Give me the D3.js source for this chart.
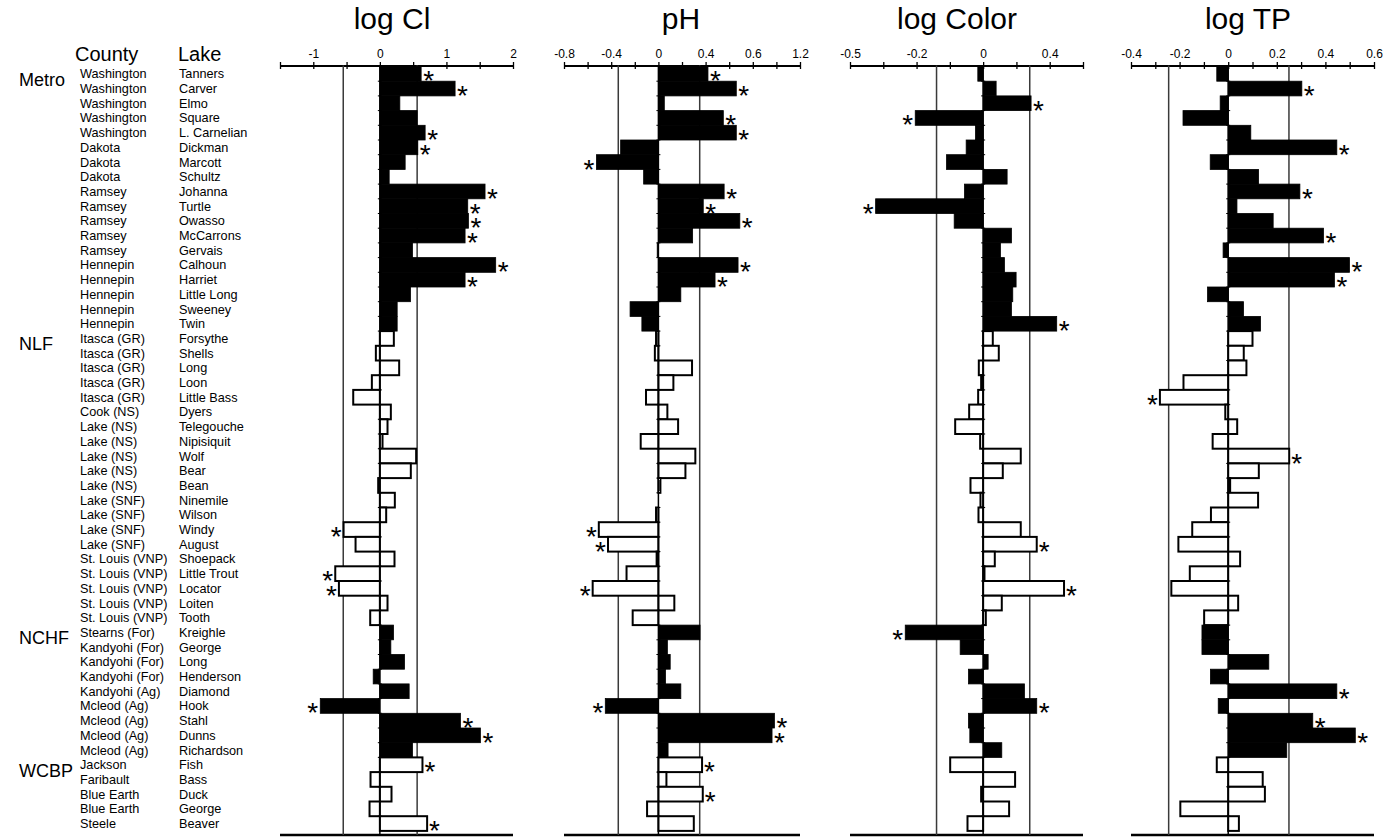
<!DOCTYPE html>
<meta charset="utf-8">
<script src="https://d3js.org/d3.v7.min.js"></script>
<style>
  body { margin: 0; background: #fff; overflow: hidden; }
  svg text { font-family: "Liberation Sans", Arial, Helvetica, sans-serif; fill: #000; }
</style>
<body>
<script>
// rows, top to bottom
var county = ["Washington","Washington","Washington","Washington","Washington","Dakota","Dakota","Dakota",
  "Ramsey","Ramsey","Ramsey","Ramsey","Ramsey","Hennepin","Hennepin","Hennepin","Hennepin","Hennepin",
  "Itasca (GR)","Itasca (GR)","Itasca (GR)","Itasca (GR)","Itasca (GR)","Cook (NS)","Lake (NS)","Lake (NS)",
  "Lake (NS)","Lake (NS)","Lake (NS)","Lake (SNF)","Lake (SNF)","Lake (SNF)","Lake (SNF)",
  "St. Louis (VNP)","St. Louis (VNP)","St. Louis (VNP)","St. Louis (VNP)","St. Louis (VNP)",
  "Stearns (For)","Kandyohi (For)","Kandyohi (For)","Kandyohi (For)","Kandyohi (Ag)",
  "Mcleod (Ag)","Mcleod (Ag)","Mcleod (Ag)","Mcleod (Ag)",
  "Jackson","Faribault","Blue Earth","Blue Earth","Steele"];
var lake = ["Tanners","Carver","Elmo","Square","L. Carnelian","Dickman","Marcott","Schultz","Johanna","Turtle",
  "Owasso","McCarrons","Gervais","Calhoun","Harriet","Little Long","Sweeney","Twin",
  "Forsythe","Shells","Long","Loon","Little Bass","Dyers","Telegouche","Nipisiquit","Wolf","Bear","Bean",
  "Ninemile","Wilson","Windy","August","Shoepack","Little Trout","Locator","Loiten","Tooth",
  "Kreighle","George","Long","Henderson","Diamond","Hook","Stahl","Dunns","Richardson",
  "Fish","Bass","Duck","George","Beaver"];
var groups = ["Metro","NLF","NCHF","WCBP"];
var groupStart = [0, 18, 38, 47];
var groupFilled = [true, false, true, false];

var logCl = [0.62,1.13,0.30,0.56,0.68,0.57,0.38,0.14,1.58,1.32,1.33,1.28,0.49,1.74,1.28,0.46,0.26,0.26,
  0.21,-0.06,0.29,-0.12,-0.40,0.165,0.115,0.04,0.545,0.465,-0.025,0.225,0.095,-0.545,-0.365,0.22,-0.67,-0.615,0.115,-0.145,
  0.205,0.165,0.37,-0.10,0.44,-0.895,1.21,1.51,0.49,
  0.64,-0.14,0.175,-0.155,0.71];
var pH = [0.42,0.66,0.05,0.55,0.66,-0.32,-0.525,-0.125,0.557,0.38,0.69,0.29,-0.01,0.675,0.48,0.19,-0.24,-0.14,
  -0.02,-0.03,0.285,0.127,-0.105,0.076,0.167,-0.15,0.313,0.229,0.017,0.0,-0.02,-0.505,-0.427,-0.015,-0.27,-0.557,0.135,-0.218,
  0.353,0.076,0.10,0.06,0.19,-0.45,0.983,0.963,0.082,
  0.37,0.068,0.376,-0.096,0.30];
var logColor = [-0.016,0.039,0.144,-0.204,-0.023,-0.051,-0.11,0.072,-0.056,-0.323,-0.087,0.085,0.052,0.064,0.099,0.089,0.085,0.221,
  0.029,0.047,-0.013,-0.006,-0.015,-0.042,-0.084,-0.009,0.113,0.059,-0.038,-0.008,-0.014,0.113,0.161,0.035,0.004,0.243,0.056,0.008,
  -0.234,-0.069,0.015,-0.044,0.124,0.161,-0.044,-0.04,0.056,
  -0.099,0.096,-0.006,0.078,-0.047];
var logTP = [-0.047,0.303,-0.033,-0.186,0.093,0.447,-0.074,0.125,0.295,0.036,0.185,0.392,-0.021,0.499,0.437,-0.085,0.063,0.133,
  0.10,0.064,0.075,-0.184,-0.281,-0.012,0.037,-0.064,0.251,0.126,0.008,0.123,-0.071,-0.148,-0.205,0.049,-0.158,-0.234,0.041,-0.099,
  -0.108,-0.108,0.167,-0.073,0.447,-0.041,0.348,0.523,0.241,
  -0.047,0.142,0.151,-0.197,0.044];

// rows marked with a star
var clStars = [0,1,4,5,8,9,10,11,13,14,31,34,35,43,44,45,47,51];
var pHStars = [0,1,3,4,6,8,9,10,13,14,31,32,35,43,44,45,47,49];
var colorStars = [2,3,9,17,32,35,38,43];
var tpStars = [1,5,8,11,13,14,22,26,42,44,45];

// reference lines
var clRefs = [-0.55, 0.56];
var pHRefs = [-0.34, 0.35];
var colorRefs = [-0.14, 0.14];
var tpRefs = [-0.245, 0.25];

// axis ticks and their printed labels
var clTicks = [-1.5,-1,-0.5,0,0.5,1,1.5,2];
var clTickLabels = ["","-1","","0","","1","","2"];
var pHTicks = [-0.8,-0.6,-0.4,-0.2,0,0.2,0.4,0.6,0.8,1,1.2];
var pHTickLabels = ["-0.8","","-0.4","","0","","0.4","","0.6","","1.2"];
var colorTicks = [-0.4,-0.3,-0.2,-0.1,0,0.1,0.2,0.3];
var colorTickLabels = ["-0.5","","-0.2","","0","","0.4",""];
var tpTicks = [-0.4,-0.3,-0.2,-0.1,0,0.1,0.2,0.3,0.4,0.5,0.6];
var tpTickLabels = ["-0.4","","-0.2","","0","","0.2","","0.4","","0.6"];

var width = 1392, height = 837;
var svg = d3.select('body').append('svg')
    .attr('width', width)
    .attr('height', height);

var rowTop = 66.5, rowH = 14.7, axisY = 65.5, bottomY = 835;
var y = d3.scaleBand()
    .domain(d3.range(lake.length))
    .range([rowTop, rowTop + rowH * lake.length]);

function groupOf(i) {
    var g = 0;
    groupStart.forEach(function (s, k) { if (i >= s) g = k; });
    return g;
}

// left labels
svg.append('text').attr('x', 75).attr('y', 61).style('font-size', '20px').text('County');
svg.append('text').attr('x', 178).attr('y', 61).style('font-size', '20px').text('Lake');

svg.append('g').selectAll('text')
    .data(groups)
    .enter().append('text')
    .attr('x', 19)
    .attr('y', (d, i) => y(groupStart[i]) + rowH / 2 + 12)
    .style('font-size', '18px')
    .text(d => d);

var rows = svg.append('g').selectAll('g')
    .data(lake)
    .enter().append('g')
    .attr('transform', (d, i) => 'translate(0,' + (y(i) + rowH / 2 + 4.5) + ')');
rows.append('text').attr('x', 80).style('font-size', '12.7px').text((d, i) => county[i]);
rows.append('text').attr('x', 179).style('font-size', '12.7px').text(d => d);

var panels = [
    {title: 'log Cl', values: logCl, stars: clStars, refs: clRefs, ticks: clTicks, labels: clTickLabels,
     domain: [-1.5, 2], range: [280, 513], titleX: 392},
    {title: 'pH', values: pH, stars: pHStars, refs: pHRefs, ticks: pHTicks, labels: pHTickLabels,
     domain: [-0.8, 1.2], range: [564, 800], titleX: 681},
    {title: 'log Color', values: logColor, stars: colorStars, refs: colorRefs, ticks: colorTicks, labels: colorTickLabels,
     domain: [-0.4, 0.3], range: [850, 1083], titleX: 957},
    {title: 'log TP', values: logTP, stars: tpStars, refs: tpRefs, ticks: tpTicks, labels: tpTickLabels,
     domain: [-0.4, 0.6], range: [1131, 1374], titleX: 1248}
];

panels.forEach(function (p) {
    var x = d3.scaleLinear().domain(p.domain).range(p.range);
    var g = svg.append('g');

    g.append('text')
        .attr('x', p.titleX)
        .attr('y', 29)
        .attr('text-anchor', 'middle')
        .style('font-size', '30px')
        .text(p.title);

    // top axis
    var ax = g.append('g')
        .attr('transform', 'translate(0,' + axisY + ')')
        .call(d3.axisTop(x)
            .tickValues(p.ticks)
            .tickFormat((d, i) => p.labels[i])
            .tickSizeInner(3)
            .tickSizeOuter(0)
            .tickPadding(5));
    ax.select('.domain').attr('stroke-width', 2);
    ax.selectAll('.tick line').attr('y1', 3.5).attr('y2', -3.5).attr('stroke-width', 1.3);
    ax.selectAll('.tick text')
        .style('font-family', '"Liberation Sans", Arial, Helvetica, sans-serif')
        .style('font-size', '12px');

    // bottom line
    g.append('line')
        .attr('x1', p.range[0]).attr('x2', p.range[1])
        .attr('y1', bottomY).attr('y2', bottomY)
        .attr('stroke', '#000').attr('stroke-width', 2.5);

    // reference lines
    g.selectAll('.ref')
        .data(p.refs)
        .enter().append('line')
        .attr('class', 'ref')
        .attr('x1', d => x(d)).attr('x2', d => x(d))
        .attr('y1', axisY).attr('y2', bottomY)
        .attr('stroke', '#3a3a3a').attr('stroke-width', 1.5);

    // bars
    g.selectAll('.bar')
        .data(p.values)
        .enter().append('rect')
        .attr('class', 'bar')
        .attr('x', d => Math.min(x(0), x(d)))
        .attr('y', (d, i) => y(i))
        .attr('width', d => Math.abs(x(d) - x(0)))
        .attr('height', y.bandwidth())
        .attr('fill', (d, i) => groupFilled[groupOf(i)] ? '#000' : '#fff')
        .attr('stroke', '#000')
        .attr('stroke-width', (d, i) => groupFilled[groupOf(i)] ? 0.8 : 2);

    // zero line with row ticks
    g.append('line')
        .attr('x1', x(0)).attr('x2', x(0))
        .attr('y1', axisY).attr('y2', bottomY)
        .attr('stroke', '#000').attr('stroke-width', 1.5);
    g.selectAll('.rowtick')
        .data(d3.range(lake.length))
        .enter().append('line')
        .attr('class', 'rowtick')
        .attr('x1', x(0) - 2).attr('x2', x(0) + 2)
        .attr('y1', d => y(d)).attr('y2', d => y(d))
        .attr('stroke', '#000').attr('stroke-width', 1);

    // significance stars
    g.selectAll('.star')
        .data(p.stars)
        .enter().append('text')
        .attr('class', 'star')
        .attr('x', d => p.values[d] >= 0 ? x(p.values[d]) + 2 : x(p.values[d]) - 2)
        .attr('y', d => y(d) + rowH / 2 + 16.5)
        .attr('text-anchor', d => p.values[d] >= 0 ? 'start' : 'end')
        .style('font-size', '28px')
        .text('*');
});
</script>
</body>
